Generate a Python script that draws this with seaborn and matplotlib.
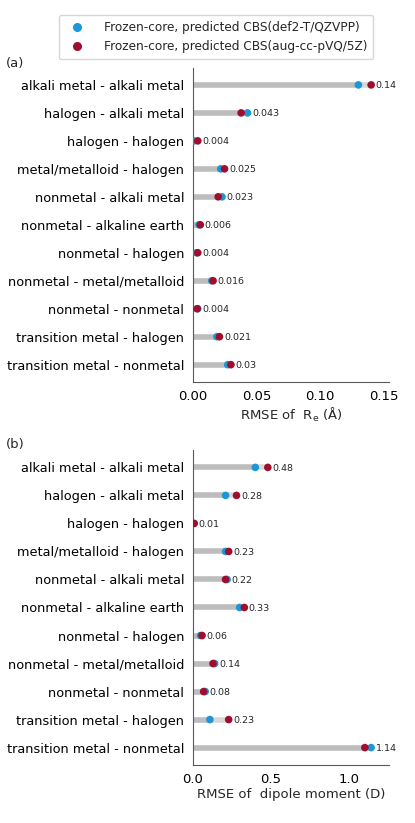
import numpy as np
import pandas as pd
import matplotlib
matplotlib.use("Agg")
import matplotlib.pyplot as plt
import seaborn as sns

pairs = ["alkali metal - alkali metal", "halogen - alkali metal", "halogen - halogen",
         "metal/metalloid - halogen", "nonmetal - alkali metal", "nonmetal - alkaline earth",
         "nonmetal - halogen", "nonmetal - metal/metalloid", "nonmetal - nonmetal",
         "transition metal - halogen", "transition metal - nonmetal"]

series_names = ["Frozen-core, predicted CBS(def2-T/QZVPP)",
                "Frozen-core, predicted CBS(aug-cc-pVQ/5Z)"]

re_def2 = [0.130, 0.043, 0.001, 0.022, 0.023, 0.005, 0.003, 0.015, 0.004, 0.019, 0.0275]
re_aug = [0.140, 0.038, 0.004, 0.025, 0.020, 0.006, 0.004, 0.016, 0.0035, 0.021, 0.030]

dip_def2 = [0.40, 0.21, 0.005, 0.21, 0.22, 0.30, 0.05, 0.14, 0.08, 0.11, 1.14]
dip_aug = [0.48, 0.28, 0.01, 0.23, 0.21, 0.33, 0.06, 0.13, 0.07, 0.23, 1.10]

re_labels = ["0.14", "0.043", "0.004", "0.025", "0.023", "0.006", "0.004", "0.016",
             "0.004", "0.021", "0.03"]
dip_labels = ["0.48", "0.28", "0.01", "0.23", "0.22", "0.33", "0.06", "0.14", "0.08",
              "0.23", "1.14"]

colors = ["#1b98d5", "#a10d2c"]

sns.set_style("white")
plt.rcParams["font.family"] = ["DejaVu Sans"]
plt.rcParams["axes.edgecolor"] = "0.35"
plt.rcParams["xtick.color"] = "0.35"
plt.rcParams["ytick.color"] = "0.35"
plt.rcParams["xtick.labelcolor"] = "black"
plt.rcParams["ytick.labelcolor"] = "black"

fig = plt.figure(figsize=(4.15, 8.23), dpi=100)
ax1 = fig.add_axes([0.4643, 0.5358, 0.473, 0.3821])
ax2 = fig.add_axes([0.4643, 0.0705, 0.473, 0.3827])


def draw(ax, v1, v2, labels, xlabel, xticks, ticklabels):
    df = pd.DataFrame({
        "pair": pairs * 2,
        "value": list(v1) + list(v2),
        "method": [series_names[0]] * len(pairs) + [series_names[1]] * len(pairs),
    })
    ypos = np.arange(len(pairs))
    ax.hlines(ypos, 0, v1, color="gray", alpha=0.3, lw=4, zorder=1)
    ax.hlines(ypos, 0, v2, color="gray", alpha=0.3, lw=4, zorder=1)
    sns.scatterplot(data=df, x="value", y="pair", hue="method", palette=colors,
                    s=30, linewidth=0, ax=ax, zorder=3, legend=False)
    vmax = np.maximum(v1, v2)
    for i, (x, t) in enumerate(zip(vmax, labels)):
        ax.annotate(t, (x, i), xytext=(3.2, -0.7), textcoords="offset points",
                    va="center", ha="left", fontsize=6.8)
    ax.set_ylim(len(pairs) - 0.38, -0.62)
    ax.set_xlim(0, vmax.max() * 1.1)
    ax.set_xticks(xticks)
    ax.set_xticklabels(ticklabels, fontsize=9.5)
    ax.tick_params(axis="y", labelsize=9.3, length=3.5, width=0.8, pad=2.5)
    ax.tick_params(axis="x", length=3.5, width=0.8, pad=2)
    ax.set_ylabel("")
    ax.set_xlabel(xlabel, fontsize=9.5, labelpad=2)
    sns.despine(ax=ax)


draw(ax1, re_def2, re_aug, re_labels, "RMSE of  R$_\\mathrm{e}$ (Å)",
     [0, 0.05, 0.10, 0.15], ["0.00", "0.05", "0.10", "0.15"])
draw(ax2, dip_def2, dip_aug, dip_labels, "RMSE of  dipole moment (D)",
     [0, 0.5, 1.0], ["0.0", "0.5", "1.0"])

fig.text(6 / 415, 1 - 64 / 823, "(a)", fontsize=9.5, va="center", ha="left")
fig.text(6 / 415, 1 - 444 / 823, "(b)", fontsize=9.5, va="center", ha="left")

handles = [plt.Line2D([], [], marker="o", ls="", color=c, markersize=5.5) for c in colors]
fig.legend(handles, series_names, loc="upper center",
           bbox_to_anchor=(216 / 415, 1 - 9 / 823), fontsize=8.7, frameon=True,
           handletextpad=1.2, borderpad=0.5, labelspacing=0.5)

fig.savefig("out.png", dpi=100)
